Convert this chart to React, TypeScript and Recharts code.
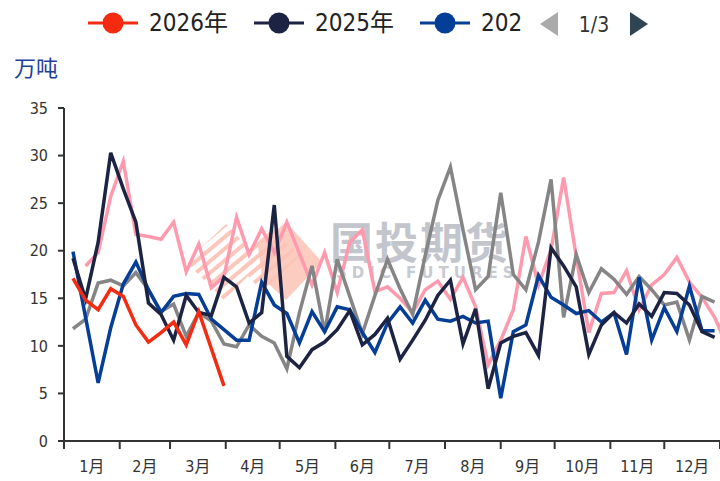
import React from 'react'
import { LineChart, Line, XAxis, YAxis } from 'recharts'

// weekly output, 万吨
const SERIES_NAMES = ['2026年', '2025年', '2024年', '2023年', '2022年']
const COLORS = ['#f42a11', '#1d2342', '#053e96', '#858585', '#ff9aae']

const Y2026 = [17.1, 14.8, 13.8, 16.0, 15.2, 12.2, 10.4, 11.4, 12.5, 10.1, 13.6, 9.7, 5.8]
const Y2025 = [
    19.2, 14.9, 20.9, 30.3, 26.5, 23.0, 14.5, 13.3, 10.6, 15.3, 13.5, 13.2, 17.2,
    16.2, 12.4, 13.5, 24.8, 8.9, 7.7, 9.6, 10.4, 11.7, 13.7, 10.1, 11.2, 12.9,
    8.6, 10.6, 12.7, 15.3, 16.9, 10.2, 13.9, 5.5, 10.3, 11.0, 11.4, 9.0, 20.3,
    18.4, 16.2, 9.1, 12.2, 13.5, 12.4, 14.4, 13.1, 15.6, 15.5, 14.3, 11.5, 10.9,
]
const Y2024 = [
    19.9, 13.0, 6.1, 11.9, 16.5, 18.8, 15.9, 13.5, 15.2, 15.5, 15.4, 12.8, 11.7,
    10.6, 10.6, 16.7, 14.3, 13.4, 10.3, 13.6, 11.5, 14.1, 13.8, 11.4, 9.3, 12.4,
    14.1, 12.4, 14.8, 12.8, 12.6, 13.1, 12.4, 12.6, 4.5, 11.5, 12.2, 17.4, 15.1,
    14.3, 13.4, 13.7, 12.5, 13.5, 9.1, 17.2, 10.6, 14.0, 11.5, 16.3, 11.6, 11.6,
]
const Y2023 = [
    11.8, 12.8, 16.6, 16.9, 16.3, 17.7, 15.9, 13.6, 14.4, 11.0, 13.5, 12.6, 10.2,
    9.9, 12.2, 11.0, 10.3, 7.6, 13.5, 18.4, 11.4, 19.1, 15.2, 11.3, 15.3, 19.1,
    16.0, 13.3, 19.5, 25.3, 28.8, 22.2, 15.9, 17.3, 26.1, 17.5, 15.9, 20.9, 27.5,
    13.0, 19.6, 15.6, 18.1, 17.0, 15.4, 17.3, 15.9, 14.3, 14.6, 10.6, 15.2, 14.6,
]
const Y2022 = [
    null, 18.4, 19.8, 25.7, 29.4, 21.7, 21.5, 21.2, 23.0, 17.8, 20.7, 16.1, 17.3,
    23.5, 19.6, 22.3, 19.8, 23.0, 19.7, 16.4, 19.8, 15.6, 20.9, 22.2, 15.7, 16.2,
    15.0, 13.5, 15.9, 16.8, 14.9, 17.2, 14.1, 8.0, 10.6, 13.8, 21.5, 16.4, 20.1,
    27.7, 19.4, 11.4, 15.5, 15.6, 17.9, 13.8, 16.4, 17.5, 19.3, 16.7, 15.1, 13.0,
    10.0,
]

const MONTHS = ['1月', '2月', '3月', '4月', '5月', '6月', '7月', '8月', '9月', '10月', '11月', '12月']
const MONTH_START_DAYS = [0, 31, 59, 90, 120, 151, 181, 212, 243, 273, 304, 334, 365]
const Y_TICKS = [0, 5, 10, 15, 20, 25, 30, 35]

const KEYS = ['y2026', 'y2025', 'y2024', 'y2023', 'y2022']
const ALL = [Y2026, Y2025, Y2024, Y2023, Y2022]

const FONT = "'DejaVu Sans Condensed', 'Noto Sans CJK SC', sans-serif"
const PX_PER_DAY = 656 / 365

const nWeeks = Math.max(...ALL.map((a) => a.length))
const data = Array.from({ length: nWeeks }, (_, i) => {
    const row: any = { day: 5 + 7 * i }
    KEYS.forEach((k, s) => {
        const v = ALL[s][i]
        row[k] = v === undefined ? null : v
    })
    return row
})

function MonthTick(props: any) {
    const { x, y, payload } = props
    const idx = MONTH_START_DAYS.indexOf(payload.value)
    if (idx < 0 || idx >= MONTHS.length) return null
    const half = ((MONTH_START_DAYS[idx + 1] - payload.value) / 2) * PX_PER_DAY
    return (
        <text x={x + half} y={y + 19} textAnchor="middle" fontSize={16} fill="#333" fontFamily={FONT}>
            {MONTHS[idx]}
        </text>
    )
}

function LegendIcon({ color }: { color: string }) {
    return (
        <svg width={50} height={24} style={{ display: 'block', flex: '0 0 50px' }}>
            <line x1={0} y1={12} x2={50} y2={12} stroke={color} strokeWidth={3} />
            <circle cx={25} cy={12} r={10.5} fill={color} />
        </svg>
    )
}

function TopLegend() {
    // page 1 of 3; the third entry is cut by the pager
    const items = [
        { left: 88, name: SERIES_NAMES[0], color: COLORS[0], clip: 0 },
        { left: 254, name: SERIES_NAMES[1], color: COLORS[1], clip: 0 },
        { left: 420, name: SERIES_NAMES[2], color: COLORS[2], clip: 41 },
    ]
    return (
        <div style={{ position: 'absolute', left: 0, top: 0, width: 720, height: 48, fontFamily: FONT }}>
            {items.map((it) => (
                <div
                    key={it.name}
                    style={{
                        position: 'absolute',
                        left: it.left,
                        top: 10,
                        display: 'flex',
                        alignItems: 'center',
                        gap: 11,
                        whiteSpace: 'nowrap',
                    }}
                >
                    <LegendIcon color={it.color} />
                    <span
                        style={{
                            display: 'inline-block',
                            fontSize: 24,
                            color: '#222',
                            lineHeight: '26px',
                            overflow: 'hidden',
                            width: it.clip ? it.clip : 'auto',
                        }}
                    >
                        {it.name}
                    </span>
                </div>
            ))}
            <svg style={{ position: 'absolute', left: 538, top: 8 }} width={120} height={32}>
                <polygon points="2,16 20,4 20,28" fill="#aaaaaa" />
                <text x={56} y={24} textAnchor="middle" fontSize={21} fill="#333" fontFamily={FONT}>
                    1/3
                </text>
                <polygon points="110,16 92,4 92,28" fill="#2f4554" />
            </svg>
        </div>
    )
}

function Watermark() {
    return (
        <div style={{ position: 'absolute', left: 0, top: 0, width: 720, height: 481, pointerEvents: 'none' }}>
            <svg width={720} height={481} style={{ position: 'absolute', left: 0, top: 0 }}>
                <defs>
                    <pattern id="hatch" width="9" height="9" patternUnits="userSpaceOnUse" patternTransform="rotate(-40)">
                        <rect width="9" height="4" fill="#fcc6ba" />
                    </pattern>
                </defs>
                <polygon points="186,262 226,224 262,262 224,300" fill="url(#hatch)" />
                <polygon points="236,262 272,228 300,256 262,292" fill="url(#hatch)" />
                <polygon points="258,246 286,222 322,262 286,300 262,278" fill="#fcc3b5" opacity={0.85} />
            </svg>
            <div
                style={{
                    position: 'absolute',
                    left: 330,
                    top: 218,
                    fontSize: 43,
                    fontWeight: 700,
                    letterSpacing: 2,
                    color: '#c3c5cd',
                    fontFamily: "'Noto Sans CJK SC', sans-serif",
                    lineHeight: '44px',
                }}
            >
                国投期货
            </div>
            <div
                style={{
                    position: 'absolute',
                    left: 336,
                    top: 265,
                    fontSize: 15,
                    fontWeight: 700,
                    letterSpacing: 5,
                    lineHeight: '16px',
                    color: '#c8cad1',
                    fontFamily: "'DejaVu Sans', sans-serif",
                }}
            >
                SDIC FUTURES
            </div>
        </div>
    )
}

export default function App() {
    return (
        <div style={{ position: 'absolute', left: 0, top: 0, width: 720, height: 481, background: '#fff', overflow: 'hidden' }}>
            <Watermark />
            <div style={{ position: 'absolute', left: 0, top: 0 }}>
                <LineChart width={720} height={481} data={data} margin={{ top: 108, right: 0, bottom: 0, left: 0 }}>
                    <XAxis
                        dataKey="day"
                        type="number"
                        domain={[0, 365]}
                        ticks={MONTH_START_DAYS}
                        allowDataOverflow
                        height={40}
                        interval={0}
                        tickSize={8}
                        tickMargin={4}
                        tick={<MonthTick />}
                        axisLine={{ stroke: '#333', strokeWidth: 2 }}
                        tickLine={{ stroke: '#333', strokeWidth: 2 }}
                    />
                    <YAxis
                        width={64}
                        domain={[0, 35]}
                        ticks={Y_TICKS}
                        interval={0}
                        tickSize={6}
                        tickMargin={10}
                        tick={{ fontSize: 16, fill: '#333', fontFamily: FONT }}
                        axisLine={{ stroke: '#333', strokeWidth: 2 }}
                        tickLine={{ stroke: '#333', strokeWidth: 2 }}
                    />
                    {[4, 3, 2, 1, 0].map((s) => (
                        <Line
                            key={KEYS[s]}
                            name={SERIES_NAMES[s]}
                            dataKey={KEYS[s]}
                            type="linear"
                            stroke={COLORS[s]}
                            strokeWidth={3.5}
                            dot={false}
                            activeDot={false}
                            isAnimationActive={false}
                        />
                    ))}
                </LineChart>
            </div>
            <TopLegend />
            <div
                style={{
                    position: 'absolute',
                    left: 14,
                    top: 52,
                    fontSize: 22,
                    color: '#1f3f99',
                    fontFamily: "'Noto Sans CJK SC', sans-serif",
                    lineHeight: '28px',
                }}
            >
                万吨
            </div>
        </div>
    )
}
